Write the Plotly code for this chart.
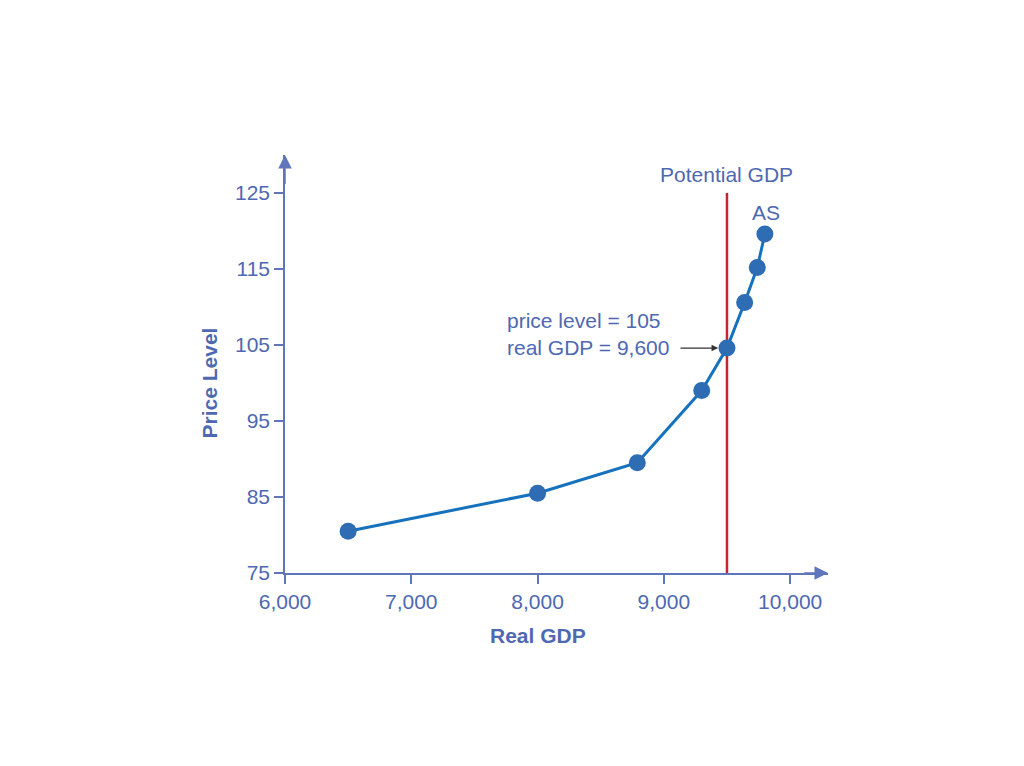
import plotly.graph_objects as go

# AS curve points
real_gdp = [6500, 8000, 8790, 9300, 9500, 9640, 9740, 9800]
price_level = [80.5, 85.5, 89.5, 99.0, 104.6, 110.6, 115.2, 119.6]

# potential GDP line
potential_x = [9500, 9500]
potential_y = [75, 125]

x_ticks = [6000, 7000, 8000, 9000, 10000]
x_tick_text = ["6,000", "7,000", "8,000", "9,000", "10,000"]
y_ticks = [75, 85, 95, 105, 115, 125]

AXIS = "#5f76bd"
TEXT = "#4e68b2"
FONT = "Liberation Sans, Arial, sans-serif"
FS = 21

fig = go.Figure()

fig.add_trace(go.Scatter(
    x=potential_x, y=potential_y, mode="lines",
    line=dict(color="#c1272d", width=2.5),
    showlegend=False, hoverinfo="skip",
))

fig.add_trace(go.Scatter(
    x=real_gdp, y=price_level, mode="lines+markers",
    line=dict(color="#1672bd", width=3),
    marker=dict(color="#2e6cb3", size=17),
    showlegend=False,
))

annotations = [
    # axis arrows
    dict(x=10300, y=75, ax=10100, ay=75, xref="x", yref="y", axref="x", ayref="y",
         text="", showarrow=True, arrowhead=2, arrowsize=1.8, arrowwidth=1.5, arrowcolor=AXIS),
    dict(x=6000, y=130, ax=6000, ay=126, xref="x", yref="y", axref="x", ayref="y",
         text="", showarrow=True, arrowhead=2, arrowsize=1.8, arrowwidth=1.5, arrowcolor=AXIS),
    # labels
    dict(x=9500, y=127.4, xref="x", yref="y", text="Potential GDP", showarrow=False,
         font=dict(size=FS, color=TEXT)),
    dict(x=9810, y=122.4, xref="x", yref="y", text="AS", showarrow=False,
         font=dict(size=FS, color=TEXT)),
    dict(x=7745, y=106.4, xref="x", yref="y", xanchor="left", align="left",
         text="price level = 105<br>real GDP = 9,600", showarrow=False,
         font=dict(size=FS, color=TEXT)),
    dict(x=9430, y=104.6, ax=9120, ay=104.6, xref="x", yref="y", axref="x", ayref="y",
         text="", showarrow=True, arrowhead=2, arrowsize=1.1, arrowwidth=1.2, arrowcolor="#333333"),
    # axis titles
    dict(x=8000, y=0, xref="x", yref="paper", yshift=-76, text="<b>Real GDP</b>",
         showarrow=False, font=dict(size=FS, color=TEXT)),
    dict(x=0, y=100, xref="paper", yref="y", xshift=-90, text="<b>Price Level</b>",
         textangle=-90, showarrow=False, font=dict(size=FS, color=TEXT)),
]

fig.update_layout(
    width=1008, height=750,
    margin=dict(l=277, r=188, t=147, b=185),
    paper_bgcolor="white", plot_bgcolor="white",
    font=dict(family=FONT, size=FS, color=TEXT),
    annotations=annotations,
)

fig.update_xaxes(
    range=[6000, 10300], tickvals=x_ticks, ticktext=x_tick_text,
    showgrid=False, zeroline=False, showline=True, linecolor=AXIS, linewidth=1.5,
    ticks="outside", ticklen=9, tickcolor=AXIS, tickwidth=1.5,
    tickfont=dict(size=FS, color=TEXT),
)
fig.update_yaxes(
    range=[75, 130], tickvals=y_ticks,
    showgrid=False, zeroline=False, showline=True, linecolor=AXIS, linewidth=1.5,
    ticks="outside", ticklen=9, tickcolor=AXIS, tickwidth=1.5,
    tickfont=dict(size=FS, color=TEXT),
)

fig.write_html("out.html")
